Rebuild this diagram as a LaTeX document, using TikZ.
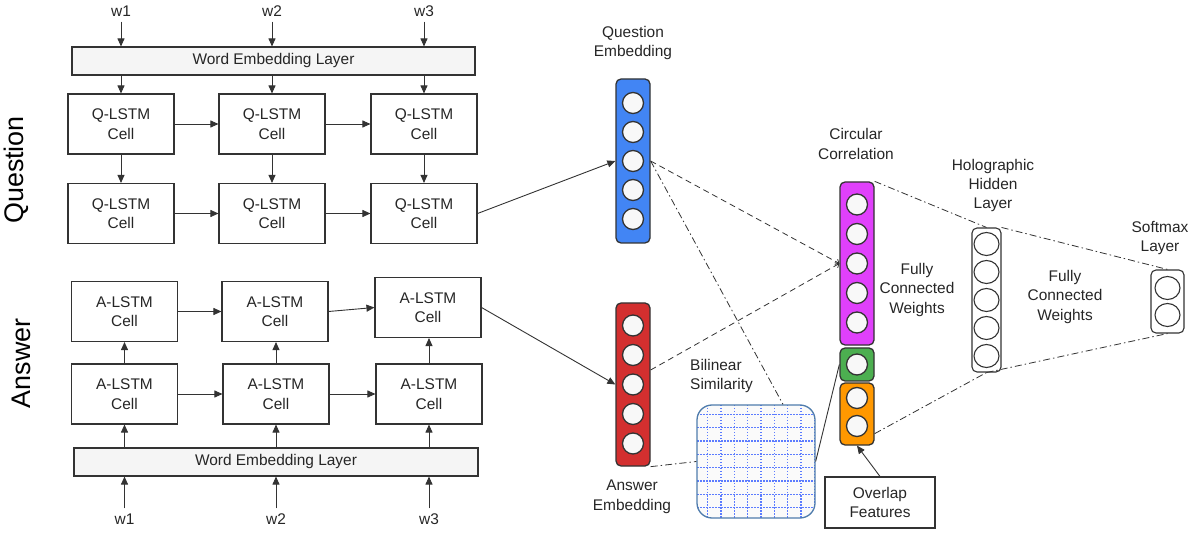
\documentclass[tikz,border=0pt]{standalone}
\usepackage{fontspec}
\setmainfont{Liberation Sans}
\usetikzlibrary{arrows.meta,calc,positioning,shapes.geometric}

\definecolor{qblue}{HTML}{4285F4}
\definecolor{ccpink}{HTML}{E040FB}
\definecolor{ovgreen}{HTML}{4CAF50}
\definecolor{ovorange}{HTML}{FF9800}
\definecolor{ared}{HTML}{D32F2F}
\definecolor{unitfill}{HTML}{F8F8F8}
\definecolor{edgegray}{HTML}{333333}
\definecolor{gridedge}{HTML}{4F7CAC}
\definecolor{griddot}{HTML}{5C7CFF}

\tikzset{
  txt/.style={font=\fontsize{15.5}{19.5}\selectfont, text=black!85, inner sep=0pt, align=center},
  word/.style={txt, inner sep=5bp},
  cell/.style={txt, draw=edgegray, line width=1.1bp, fill=white,
    minimum width=106bp, minimum height=60bp},
  wordemb/.style={txt, draw=edgegray, line width=1.1bp, fill=black!4,
    minimum width=403bp, minimum height=28bp},
  vecbox/.style={draw=edgegray, line width=1.3bp, rounded corners=5bp,
    minimum width=34bp, inner sep=0pt},
  neuron/.style={circle, draw=edgegray, line width=1.3bp, fill=unitfill,
    minimum size=21bp, inner sep=0pt},
  hneuron/.style={ellipse, draw=edgegray, line width=1.1bp, fill=white,
    minimum width=25bp, minimum height=23bp, inner sep=0pt},
  arr/.style={-{Triangle[length=8bp,width=7bp]}, line width=0.9bp, draw=edgegray},
  simlink/.style={dash pattern=on 6bp off 4bp, line width=0.8bp, draw=edgegray,
    -{Straight Barb[length=3bp]}},
  fclink/.style={dash pattern=on 7bp off 3bp on 1.5bp off 3bp, line width=0.8bp,
    draw=edgegray},
  dotline/.style={griddot, line width=1.2bp, dash pattern=on 1.5bp off 1.5bp},
  simgrid/.style={draw=gridedge, line width=1.3bp, fill=black!2, rounded corners=15bp,
    minimum width=118bp, minimum height=113bp, inner sep=0pt,
    path picture={
      \foreach \g in {0,...,8}
        \draw[dotline] ([xshift=10.7bp+13.33bp*\g]path picture bounding box.north west)
          -- ([xshift=10.7bp+13.33bp*\g]path picture bounding box.south west);
      \foreach \g in {0,...,7}
        \draw[dotline] ([yshift=-9.3bp-13.33bp*\g]path picture bounding box.north west)
          -- ([yshift=-9.3bp-13.33bp*\g]path picture bounding box.north east);
    }},
  sidelabel/.style={font=\fontsize{27}{30}\selectfont, rotate=90, inner sep=0pt},
}

\begin{document}
\begin{tikzpicture}[x=1bp, y=-1bp]
  \useasboundingbox (0,0) rectangle (1203,535);

  \node[sidelabel] (qside) at (16,170) {Question};
  \node[sidelabel] (aside) at (21.5,363.5) {Answer};

  % question encoder
  \node[wordemb] (qemb) at (273.5,61) {Word Embedding Layer};
  \foreach \i/\x in {1/121,2/272,3/424} {
    \node[word] (qw\i) at (\x,11) {w\i};
    \node[cell] (qa\i) at (\x,124) {Q-LSTM\\Cell};
    \node[cell] (qb\i) at (\x,213.5) {Q-LSTM\\Cell};
    \draw[arr] (qw\i.south) -- (qw\i.south |- qemb.north);
    \draw[arr] (qa\i.north |- qemb.south) -- (qa\i.north);
    \draw[arr] (qa\i.south) -- (qb\i.north);
  }

  % answer encoder
  \node[wordemb, minimum width=404bp] (aemb) at (276,462) {Word Embedding Layer};
  \foreach \i/\x/\y in {1/124.5/311.5,2/275/311.5,3/428/307.5} {
    \node[cell] (aa\i) at (\x,\y) {A-LSTM\\Cell};
  }
  \foreach \i/\x in {1/124.5,2/276,3/429} {
    \node[cell] (ab\i) at (\x,394) {A-LSTM\\Cell};
    \node[word] (aw\i) at (\x,519) {w\i};
    \draw[arr] (aw\i.north) -- (aw\i.north |- aemb.south);
    \draw[arr] (ab\i.south |- aemb.north) -- (ab\i.south);
    \draw[arr] (ab\i.north) -- (ab\i.north |- aa\i.south);
  }
  \foreach \i/\j in {1/2,2/3} {
    \draw[arr] (qa\i.east) -- (qa\j.west);
    \draw[arr] (qb\i.east) -- (qb\j.west);
    \draw[arr] (aa\i.east) -- (aa\j.west);
    \draw[arr] (ab\i.east) -- (ab\j.west);
  }

  % embeddings
  \node[vecbox, fill=qblue, minimum height=164bp] (qvec) at (633,161) {};
  \node[vecbox, fill=ared, minimum height=163bp] (avec) at (633,384.5) {};
  \foreach \k [count=\n] in {-2,...,2} {
    \node[neuron] (qn\n) at ($(qvec)+(0,29*\k)$) {};
    \node[neuron] (an\n) at ($(avec)+(0,29.5*\k)$) {};
  }
  \node[txt] (qlab) at (633,43) {Question\\Embedding};
  \node[txt] (alab) at (632,497) {Answer\\Embedding};

  % bilinear similarity
  \node[simgrid] (bilin) at (756,461.5) {};
  \node[txt, align=left, anchor=west] (blab) at (690,376) {Bilinear\\Similarity};

  % circular correlation + overlap
  \node[vecbox, fill=ccpink, minimum height=163bp] (cvec) at (857,263.5) {};
  \foreach \k [count=\n] in {-2,...,2}
    \node[neuron] (cn\n) at ($(cvec)+(0,29.5*\k)$) {};
  \node[vecbox, fill=ovgreen, minimum height=33bp] (gvec) at (857,364.5) {};
  \node[neuron] (gn1) at (gvec) {};
  \node[vecbox, fill=ovorange, minimum height=62bp] (ovec) at (857,414) {};
  \node[neuron] (on1) at ($(ovec)+(0,-16)$) {};
  \node[neuron] (on2) at ($(ovec)+(0,12)$) {};
  \node[txt] (clab) at (856,144) {Circular\\Correlation};
  \node[txt, draw=edgegray, line width=1.1bp, minimum width=110bp,
    minimum height=51bp] (ovl) at (880,502.5) {Overlap\\Features};

  % hidden and output layers
  \node[vecbox, fill=white, line width=1.1bp, minimum width=29bp,
    minimum height=144bp] (hvec) at (986.5,300) {};
  \foreach \k [count=\n] in {-2,...,2}
    \node[hneuron] (hn\n) at ($(hvec)+(0,28*\k)$) {};
  \node[vecbox, fill=white, line width=1.1bp, minimum width=33bp,
    minimum height=63bp] (smax) at (1167.5,301.5) {};
  \node[hneuron] (sn1) at ($(smax)+(0,-13.5)$) {};
  \node[hneuron] (sn2) at ($(smax)+(0,13.5)$) {};
  \node[txt] (hlab) at (993,185.5) {Holographic\\Hidden\\Layer};
  \node[txt] (slab) at (1160,238) {Softmax\\Layer};
  \node[txt] (fc1) at (917,290) {Fully\\Connected\\Weights};
  \node[txt] (fc2) at (1065,297) {Fully\\Connected\\Weights};

  % connectors
  \draw[arr] (qb3.east) -- (qvec.west);
  \draw[arr] (aa3.east) -- (avec.west);
  \draw[simlink] (qvec.east) -- (cvec.west);
  \draw[simlink] ([yshift=14.5bp]avec.east) -- (cvec.west);
  \draw[fclink] (qvec.east) -- ([xshift=27bp]bilin.north);
  \draw[fclink] (avec.south east) -- (bilin.west);
  \draw[line width=0.9bp, edgegray] (bilin.east) -- (gvec.west);
  \draw[fclink] (cvec.north east) -- (hvec.north);
  \draw[fclink] (hvec.north east) -- (smax.north);
  \draw[fclink] ([yshift=12bp]ovec.south east) -- (hvec.south);
  \draw[fclink] (hvec.south) -- (smax.south);
  \draw[arr] (ovl.north) -- (ovec.south);
\end{tikzpicture}
\end{document}
